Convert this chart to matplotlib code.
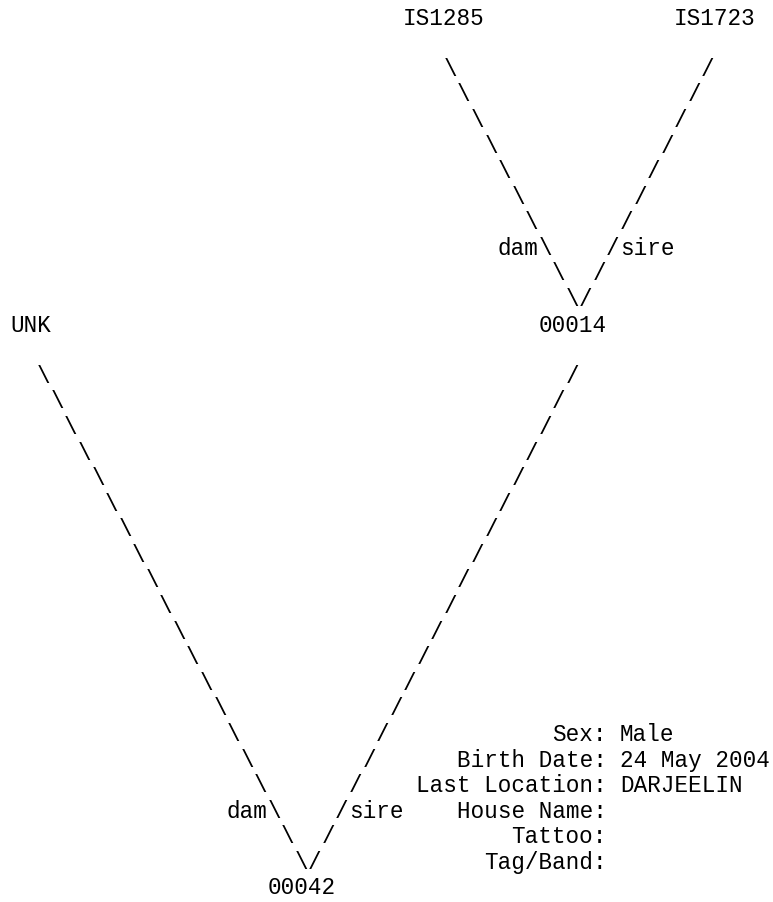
import matplotlib.pyplot as plt

# animals in the pedigree
animal = '00042'
parents = ['UNK', '00014']            # dam, sire of 00042
grandparents = ['IS1285', 'IS1723']   # dam, sire of 00014

info_labels = ['Sex', 'Birth Date', 'Last Location', 'House Name', 'Tattoo', 'Tag/Band']
info_values = ['Male', '24 May 2004', 'DARJEELIN', '', '', '']

# text grid: one monospace character cell in pixels
CW = 13.55
LH = 25.58
X0 = 10
BASE0 = 24.7
FS = CW / 0.6 * 0.72   # pt size giving CW px advance at dpi 100

fig = plt.figure(figsize=(7.73, 9.02), dpi=100)
ax = fig.add_axes([0, 0, 1, 1])
ax.set_xlim(0, 773)
ax.set_ylim(902, 0)
ax.axis('off')


def put(row, col, s):
    ax.text(X0 + col * CW, BASE0 + row * LH, s, family='Liberation Mono',
            fontsize=FS, ha='left', va='baseline', color='black')


def vee(bottom_row, col, height):
    # two dashed diagonals meeting at (bottom_row, col)
    for k in range(height):
        put(bottom_row - k, col - k, '\\')
        put(bottom_row - k, col + 1 + k, '/')
    put(bottom_row - 2, col - 5, 'dam')
    put(bottom_row - 2, col + 4, 'sire')


# lower family: 00042 with dam UNK and sire 00014
vee(33, 21, 20)
put(34, 19, animal)
put(12, 0, parents[0])
put(12, 39, parents[1])

# upper family: 00014 with dam IS1285 and sire IS1723
vee(11, 41, 10)
put(0, 29, grandparents[0])
put(0, 49, grandparents[1])

# details block, labels right-aligned on the colon
for i, (lab, val) in enumerate(zip(info_labels, info_values)):
    put(28 + i, 43 - len(lab), lab + ':')
    if val:
        put(28 + i, 45, val)

fig.savefig('out.png', dpi=100)
